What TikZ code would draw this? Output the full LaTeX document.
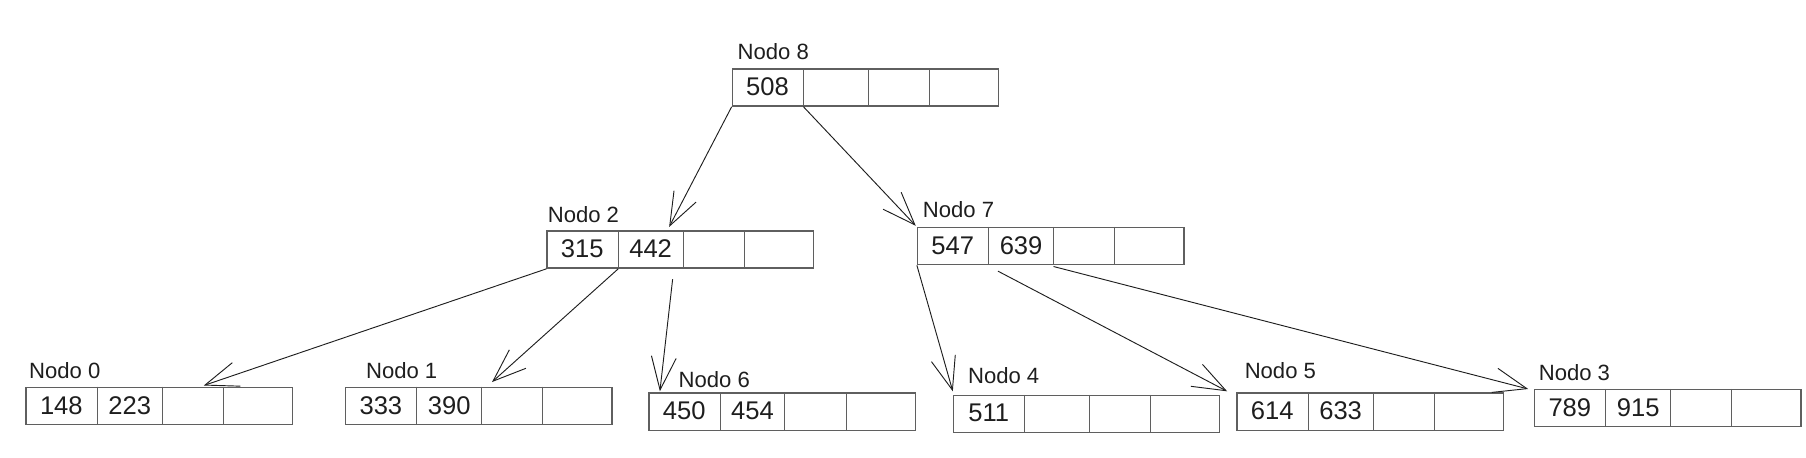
\documentclass[tikz,border=0pt]{standalone}
\usepackage{fontspec}
\setmainfont{Liberation Sans}
\usepackage{tikz}
\usetikzlibrary{arrows.meta, positioning, calc}
\definecolor{BoxGray}{HTML}{5F5F5F}
\definecolor{Ink}{HTML}{1E1E1E}
\tikzset{
    nodo/.style={rectangle, draw=BoxGray, line width=1.2pt, inner sep=0pt,
                 minimum width=8.05cm, minimum height=1.12cm},
    celda/.style={draw=BoxGray, line width=0.9pt},
    clave/.style={text=Ink, font=\fontsize{22}{26}\selectfont},
    etiqueta/.style={text=Ink, font=\fontsize{19}{22}\selectfont, anchor=base west, inner sep=0pt},
    flecha/.style={draw=Ink, line width=0.8pt, -{Straight Barb[length=1.0cm, width=0.75cm]}}
}
% box with four cells: name, x, y, label, label dx, label gap, key 1, key 2
\newcommand{\nodobox}[8]{
    \node[nodo, anchor=north west] (#1) at (#2,#3) {};
    \foreach \xd in {62,118,171}
        \draw[celda] ($(#1.north west)+(\xd,0)$) -- ($(#1.south west)+(\xd,0)$);
    \node[etiqueta] at ($(#1.north west)+(#5,-#6)$) {#4};
    \node[clave] at ($(#1.north west)+(31,16)$) {#7};
    \node[clave] at ($(#1.north west)+(90,16)$) {#8};
}

\begin{document}
\begin{tikzpicture}[x=0.035cm, y=-0.035cm]
    \useasboundingbox (0,0) rectangle (1560,395);

    % Root
    \nodobox{n8}{632}{59}{Nodo 8}{5}{8}{508}{}

    % Second level
    \nodobox{n2}{472}{199}{Nodo 2}{1}{7}{315}{442}
    \nodobox{n7}{792}{196}{Nodo 7}{5}{8}{547}{639}

    % Leaves
    \nodobox{n0}{22}{334}{Nodo 0}{3}{7}{148}{223}
    \nodobox{n1}{298}{334}{Nodo 1}{18}{7}{333}{390}
    \nodobox{n6}{560}{339}{Nodo 6}{26}{4}{450}{454}
    \nodobox{n4}{823}{341}{Nodo 4}{13}{10}{511}{}
    \nodobox{n5}{1068}{339}{Nodo 5}{7}{12}{614}{633}
    \nodobox{n3}{1325}{336}{Nodo 3}{4}{7}{789}{915}

    % Pointers
    \draw[flecha] (n8.south west) -- ($(n2.north west)+(106,-3)$);
    \draw[flecha] ($(n8.south west)+(62,0)$) -- ($(n7.north west)+(-1,-1)$);

    \draw[flecha] (n2.south west) -- ($(n0.north west)+(154,-1)$);
    \draw[flecha] ($(n2.south west)+(62,0)$) -- ($(n1.north west)+(127,-4)$);
    \draw[flecha] ($(n2.south west)+(109,9)$) -- ($(n6.north west)+(10,-1)$);

    \draw[flecha] (n7.south west) -- ($(n4.north west)+(0,-3)$);
    \draw[flecha] ($(n7.south west)+(70,5)$) -- ($(n5.north west)+(-8,-1)$);
    \draw[flecha] ($(n7.south west)+(118,1)$) -- ($(n3.north west)+(-5,0)$);
\end{tikzpicture}
\end{document}
